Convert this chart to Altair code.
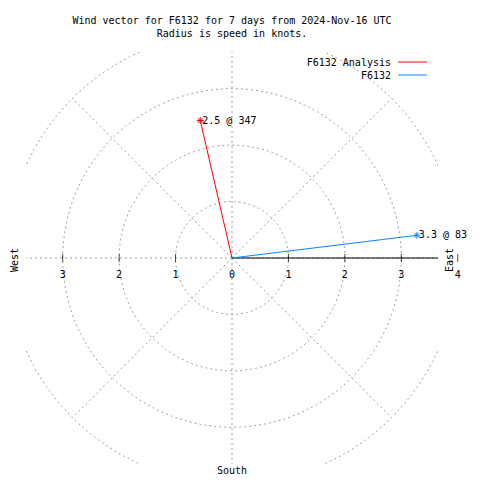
import altair as alt
import numpy as np
import pandas as pd

# ---- data ----
title_lines = ["Wind vector for F6132 for 7 days from 2024-Nov-16 UTC",
               "Radius is speed in knots."]
series = ["F6132 Analysis", "F6132"]
speeds = [2.5, 3.3]
directions = [347, 83]
colors = ["#ff0000", "#0a84ff"]
ring_radii = [1, 2, 3, 4]
spoke_angles = [0, 45, 90, 135, 180, 225, 270, 315]
tick_values = [-3, -2, -1, 0, 1, 2, 3, 4]
tick_labels = ["3", "2", "1", "0", "1", "2", "3", "4"]
compass = ["West", "East", "South"]

FONT = "DejaVu Sans Mono"
GRID = "#a0a0a0"
DOM = [-3.65, 3.65]
W = 412

xs = alt.Scale(domain=DOM, nice=False, zero=False)
ys = alt.Scale(domain=DOM, nice=False, zero=False)

# grid rings
ring_rows = []
for r in ring_radii:
    for i, a in enumerate(range(0, 361, 3)):
        t = np.radians(a)
        ring_rows.append({"r": r, "i": i, "x": r * np.cos(t), "y": r * np.sin(t)})
rings_df = pd.DataFrame(ring_rows)

spoke_rows = []
for a in spoke_angles:
    t = np.radians(a)
    spoke_rows.append({"a": a, "k": 0, "x": 0.0, "y": 0.0})
    spoke_rows.append({"a": a, "k": 1, "x": 4 * np.cos(t), "y": 4 * np.sin(t)})
spokes_df = pd.DataFrame(spoke_rows)

dash = [2, 3]
rings = alt.Chart(rings_df).mark_line(clip=True, color=GRID, strokeDash=dash, strokeWidth=1).encode(
    x=alt.X("x:Q", scale=xs, axis=None),
    y=alt.Y("y:Q", scale=ys, axis=None),
    detail="r:N", order="i:Q")

spokes = alt.Chart(spokes_df).mark_line(clip=True, color=GRID, strokeDash=dash, strokeWidth=1).encode(
    x=alt.X("x:Q", scale=xs, axis=None),
    y=alt.Y("y:Q", scale=ys, axis=None),
    detail="a:N", order="k:Q")

axis_df = pd.DataFrame({"x": [0, 4], "y": [0, 0]})
axis_line = alt.Chart(axis_df).mark_line(clip=True, color="black", strokeWidth=1).encode(
    x=alt.X("x:Q", scale=xs, axis=None), y=alt.Y("y:Q", scale=ys, axis=None))

ticks_df = pd.DataFrame({"x": tick_values, "y": [0] * len(tick_values), "lab": tick_labels})
ticks = alt.Chart(ticks_df[ticks_df.x != 0]).mark_tick(orient="vertical", size=8, thickness=1, color="black").encode(
    x=alt.X("x:Q", scale=xs, axis=None), y=alt.Y("y:Q", scale=ys, axis=None))
tick_text = alt.Chart(ticks_df).mark_text(font=FONT, fontSize=10, dy=17, align="center",
                                          baseline="middle", color="black").encode(
    x=alt.X("x:Q", scale=xs, axis=None), y=alt.Y("y:Q", scale=ys, axis=None), text="lab:N")

# vectors
vec_rows = []
tip_rows = []
for s, sp, d in zip(series, speeds, directions):
    t = np.radians(d)
    tx, ty = sp * np.sin(t), sp * np.cos(t)
    vec_rows.append({"series": s, "k": 0, "x": 0.0, "y": 0.0})
    vec_rows.append({"series": s, "k": 1, "x": tx, "y": ty})
    tip_rows.append({"series": s, "x": tx, "y": ty, "lab": f"{sp} @ {d}"})
vec_df = pd.DataFrame(vec_rows)
tip_df = pd.DataFrame(tip_rows)
cscale = alt.Scale(domain=series, range=colors)

vectors = alt.Chart(vec_df).mark_line(strokeWidth=1).encode(
    x=alt.X("x:Q", scale=xs, axis=None), y=alt.Y("y:Q", scale=ys, axis=None),
    color=alt.Color("series:N", scale=cscale, legend=None), detail="series:N", order="k:Q")

star = "M-1,0L1,0M0,-1L0,1M-0.7,-0.7L0.7,0.7M-0.7,0.7L0.7,-0.7"
tips = alt.Chart(tip_df).mark_point(shape=star, size=49, filled=False, strokeWidth=1, opacity=1).encode(
    x=alt.X("x:Q", scale=xs, axis=None), y=alt.Y("y:Q", scale=ys, axis=None),
    color=alt.Color("series:N", scale=cscale, legend=None))
tip_text = alt.Chart(tip_df).mark_text(font=FONT, fontSize=10, dx=2, align="left",
                                       baseline="middle", color="black").encode(
    x=alt.X("x:Q", scale=xs, axis=None), y=alt.Y("y:Q", scale=ys, axis=None), text="lab:N")

base = alt.Chart(pd.DataFrame({"d": [0]}))
west = base.mark_text(font=FONT, fontSize=10, angle=270, align="center", baseline="middle",
                      color="black", text=compass[0]).encode(x=alt.value(-11), y=alt.value(208))
east = base.mark_text(font=FONT, fontSize=10, angle=270, align="center", baseline="middle",
                      color="black", text=compass[1]).encode(x=alt.value(424), y=alt.value(208))
south = base.mark_text(font=FONT, fontSize=10, align="center", baseline="middle",
                       color="black", text=compass[2]).encode(x=alt.value(206), y=alt.value(419))

legend_layers = []
for i, (s, c) in enumerate(zip(series, colors)):
    legend_layers.append(base.mark_text(font=FONT, fontSize=10, align="right", baseline="middle",
                                        color="black", text=s).encode(
        x=alt.value(365), y=alt.value(10.5 + 13 * i)))
    legend_layers.append(base.mark_rule(color=c, strokeWidth=1).encode(
        x=alt.value(372), x2=alt.value(401), y=alt.value(10 + 13 * i)))

chart = alt.layer(rings, spokes, axis_line, ticks, tick_text, vectors, tips, tip_text,
                  west, east, south, *legend_layers).properties(
    width=W, height=W,
    title=alt.TitleParams(text=title_lines, anchor="middle", frame="group", font=FONT,
                          fontSize=10, fontWeight="normal", color="black", offset=13, lineHeight=13),
    autosize=alt.AutoSizeParams(type="none"),
    padding={"left": 18, "top": 44, "right": 30, "bottom": 14},
).configure_view(stroke=None)

chart.save("out.html", embed_options={"renderer": "svg", "actions": False})
